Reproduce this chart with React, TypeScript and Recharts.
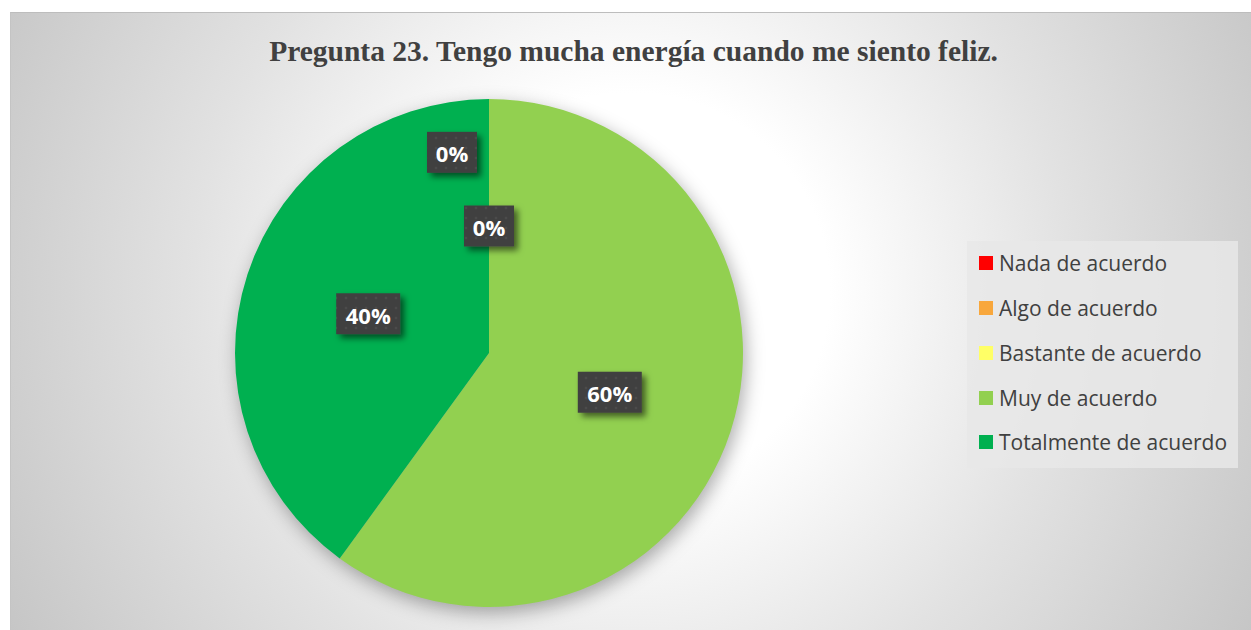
import { PieChart, Pie, Cell, Legend } from 'recharts';

const categories = ['Nada de acuerdo', 'Algo de acuerdo', 'Bastante de acuerdo', 'Muy de acuerdo', 'Totalmente de acuerdo'];
const values = [0, 0, 0, 60, 40];
const colors = ['#FF0000', '#F8A73C', '#FFFF66', '#92D050', '#00B050'];
const title = 'Pregunta 23. Tengo mucha energía cuando me siento feliz.';

const data = categories.map((name, i) => ({ name, value: values[i] }));

const RAD = Math.PI / 180;

const renderLabel = (props: any) => {
  const { cx, cy, midAngle, outerRadius, percent, index, value } = props;
  let r = outerRadius * 0.5;
  let dx = 0;
  // zero slices all sit at the start angle, excel's best-fit spreads them out
  if (value === 0 && index === 1) {
    r = outerRadius * 0.79;
    dx = -37;
  }
  if (value === 0 && index === 2) return null;
  const x = cx + r * Math.cos(-midAngle * RAD) + dx;
  const y = cy + r * Math.sin(-midAngle * RAD);
  const text = `${Math.round(percent * 100)}%`;
  const w = text.length > 2 ? 64 : 50;
  const h = 41;
  return (
    <g key={`lbl-${index}`}>
      <rect x={x - w / 2} y={y - h / 2} width={w} height={h} fill="url(#dots)" filter="url(#lblShadow)" />
      <text
        x={x}
        y={y + 1}
        fill="#ffffff"
        textAnchor="middle"
        dominantBaseline="central"
        fontFamily="'Open Sans', sans-serif"
        fontWeight={700}
        fontSize={22}
      >
        {text}
      </text>
    </g>
  );
};

const LegendBox = () => (
  <div style={{ paddingTop: 0 }}>
    {categories.map((c, i) => (
      <div key={c} style={{ height: 44.75, display: 'flex', alignItems: 'center', paddingLeft: 12 }}>
        <span style={{ width: 14, height: 14, background: colors[i], display: 'inline-block', marginRight: 6 }} />
        <span style={{ fontFamily: "'Open Sans', sans-serif", fontSize: 21, color: '#404040', whiteSpace: 'nowrap' }}>{c}</span>
      </div>
    ))}
  </div>
);

export default function App() {
  return (
    <div>
      <style>{`body{margin:0;overflow:hidden}.recharts-pie{filter:drop-shadow(3px 6px 9px rgba(0,0,0,0.32))}`}</style>
      <div
        style={{
          position: 'absolute',
          left: 10,
          top: 12,
          width: 1241,
          height: 618,
          borderTop: '1px solid #bdbdbd',
          borderLeft: '1px solid #c4c4c4',
          background: 'radial-gradient(circle farthest-corner at 50% 45%, #ffffff 0%, #ffffff 28%, #e2e2e2 62%, #c6c6c6 100%)',
          overflow: 'hidden',
        }}
      >
        <div
          style={{
            position: 'absolute',
            left: 0,
            width: 1245,
            top: 24,
            textAlign: 'center',
            fontFamily: "'Liberation Serif', serif",
            fontWeight: 700,
            fontSize: 29.5,
            lineHeight: '29px',
            color: '#404040',
          }}
        >
          {title}
        </div>
        <PieChart width={1241} height={618} margin={{ top: 0, right: 0, bottom: 0, left: 0 }}>
          <defs>
            <pattern id="dots" width="10" height="10" patternUnits="userSpaceOnUse">
              <rect width="10" height="10" fill="#404040" />
              <circle cx="5" cy="5" r="1.3" fill="#4c4c4c" />
            </pattern>
            <filter id="lblShadow" x="-30%" y="-30%" width="170%" height="180%">
              <feDropShadow dx="4" dy="4" stdDeviation="3" floodColor="#000" floodOpacity="0.55" />
            </filter>
          </defs>
          <Pie
            data={data}
            dataKey="value"
            nameKey="name"
            cx={478}
            cy={340}
            outerRadius={254}
            startAngle={90}
            endAngle={-270}
            stroke="none"
            label={renderLabel}
            labelLine={false}
            isAnimationActive={false}
          >
            {data.map((d, i) => (
              <Cell key={d.name} fill={colors[i]} />
            ))}
          </Pie>
          <Legend
            layout="vertical"
            content={<LegendBox />}
            wrapperStyle={{
              left: 956,
              top: 228,
              width: 271,
              height: 227,
              background: 'rgba(232,232,232,0.85)',
            }}
          />
        </PieChart>
      </div>
    </div>
  );
}
